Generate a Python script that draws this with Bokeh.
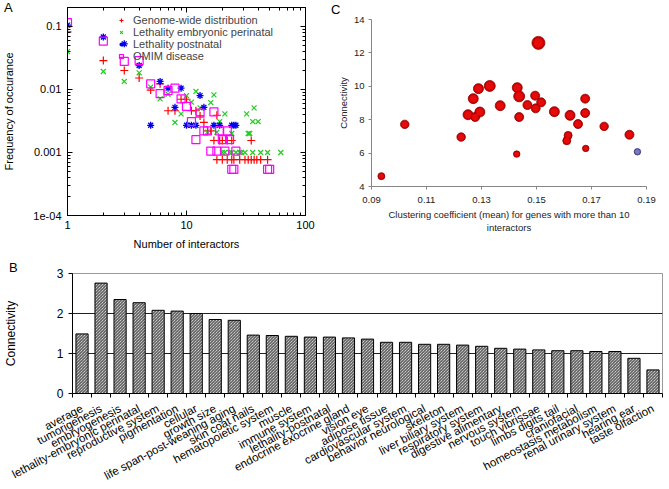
import math
from bokeh.plotting import figure
from bokeh.models import FixedTicker, LogAxis, Range1d, Legend, LegendItem, Div
from bokeh.layouts import column, row
from bokeh.embed import file_html
from bokeh.resources import INLINE

FONT = "Liberation Sans"

# ---------------- Panel A data (degree distributions) ----------------
genome_k = [1, 2, 3, 4, 5, 6, 7, 8, 9, 10, 11, 12, 13, 14, 15, 16, 18,
            17, 19, 20, 22, 24, 35,
            18, 20, 22, 24, 25, 28, 31, 33, 35, 37, 39, 42, 48]
genome_f = [0.082, 0.0288, 0.020, 0.0152, 0.0098, 0.0123, 0.0046, 0.0046, 0.0070, 0.0070,
            0.0046, 0.0046, 0.0038, 0.0030, 0.0022, 0.0022, 0.0039,
            0.00155, 0.00155, 0.00155, 0.00155, 0.00155, 0.00155,
            0.00077, 0.00077, 0.00077, 0.00077, 0.00077, 0.00077, 0.00077, 0.00077,
            0.00077, 0.00077, 0.00077, 0.00077, 0.00077]

emb_k = [1, 2, 3, 4, 5, 6, 7, 8, 9, 10, 11, 12, 13, 15, 16, 17, 18, 19, 21, 24,
         32, 33, 34, 36, 37, 40,
         20, 21, 23, 24, 26, 28, 29, 31, 36, 42, 48, 62]
emb_f = [0.040, 0.0193, 0.0134, 0.0184, 0.0109, 0.0071, 0.0084, 0.0030, 0.0041, 0.0080,
         0.0063, 0.0093, 0.0051, 0.0021, 0.0062, 0.0082, 0.0021, 0.0031, 0.0041, 0.0020,
         0.0041, 0.0020, 0.0020, 0.0031, 0.0051, 0.0031,
         0.0010, 0.0010, 0.0010, 0.0010, 0.0010, 0.0010, 0.0010, 0.0010, 0.0010, 0.0010,
         0.0010, 0.0010]

post_k = [1, 2, 3, 4, 5, 6, 7, 8, 9, 10, 11, 12, 13, 14, 17, 19, 24, 25, 26]
post_f = [0.105, 0.068, 0.053, 0.024, 0.0027, 0.0134, 0.0105, 0.0052, 0.0105, 0.0027,
          0.0027, 0.0027, 0.0080, 0.0052, 0.0027, 0.0027, 0.0027, 0.0027, 0.0027]

omim_k = [1, 2, 3, 4, 5, 6, 7, 8, 9, 10, 11, 12, 13, 14, 15, 16, 17, 18, 19, 20,
          21, 22, 23, 24, 25, 26, 48, 50]
omim_f = [0.115, 0.0586, 0.0279, 0.0288, 0.0123, 0.0086, 0.0096, 0.0105, 0.0071, 0.0054,
          0.0031, 0.0016, 0.0042, 0.0022, 0.0022, 0.00105, 0.0044, 0.00105, 0.0022, 0.0016,
          0.00105, 0.0022, 0.0016, 0.00054, 0.00054, 0.00105, 0.00054, 0.00054]

a_series = ["Genome-wide distribution", "Lethality embryonic perinatal",
            "Lethality postnatal", "OMIM disease"]
a_x_ticks = [1, 10, 100]
a_x_labels = ["1", "10", "100"]
a_y_ticks = [0.1, 0.01, 0.001, 0.0001]
a_y_labels = ["0.1", "0.01", "0.001", "1e-04"]

# ---------------- Panel B data ----------------
b_categories = ["average", "tumorigenesis", "embryogenesis", "lethality-embryonic perinatal",
                "reproductive system", "pigmentation", "cellular", "growth size",
                "life span-post-weaning aging", "skin coat nails", "hematopoietic system",
                "muscle", "immune system", "lethality-postnatal", "endocrine exocrine gland",
                "vision eye", "adipose tissue", "cardiovascular system", "behavior neurological",
                "skeleton", "liver biliary system", "respiratory system", "digestive alimentary",
                "nervous system", "touch vibrissae", "limbs digits tail", "craniofacial",
                "homeostasis metabolism", "renal urinary system", "hearing ear", "taste olfaction"]
b_values = [1.49, 2.76, 2.35, 2.27, 2.08, 2.06, 2.00, 1.85, 1.83, 1.46, 1.45, 1.43, 1.41,
            1.41, 1.39, 1.36, 1.28, 1.28, 1.23, 1.23, 1.21, 1.18, 1.13, 1.11, 1.09, 1.07,
            1.07, 1.05, 1.05, 0.88, 0.59]
b_y_ticks = [0, 1, 2, 3]

# ---------------- Panel C data ----------------
c_clustering = [0.0936, 0.1021, 0.1226, 0.1251, 0.1277, 0.1294, 0.1270, 0.1289, 0.1330, 0.1368,
                0.1430, 0.1437, 0.1437, 0.1428, 0.1467, 0.1495, 0.1497, 0.1517, 0.1507, 0.1565,
                0.1622, 0.1651, 0.1615, 0.1610, 0.1677, 0.1677, 0.1679, 0.1746, 0.1838, 0.1867]
c_connectivity = [4.62, 7.72, 6.96, 8.30, 8.16, 8.46, 9.26, 9.86, 10.02, 8.84,
                  9.92, 9.40, 8.16, 5.94, 8.88, 9.44, 8.68, 9.04, 12.60, 8.48,
                  8.26, 7.74, 7.06, 6.74, 9.26, 8.40, 6.28, 7.60, 7.10, 6.08]
c_bubble = [49, 72, 72, 100, 81, 100, 100, 100, 121, 100,
            100, 121, 81, 42, 81, 81, 81, 81, 169, 100,
            100, 81, 64, 64, 81, 81, 42, 72, 81, 42]
c_group = ["phenotype"] * 29 + ["average"]
c_x_ticks = [0.09, 0.11, 0.13, 0.15, 0.17, 0.19]
c_y_ticks = [4, 6, 8, 10, 12, 14]

panel_letters = ["A", "B", "C"]


def letter_div(text, left, top):
    return Div(text=text, margin=0,
               styles={"position": "absolute", "left": f"{left}px", "top": f"{top}px",
                       "font-family": FONT, "font-size": "13px", "line-height": "1",
                       "color": "black"})


# ================= Panel A =================
pa = figure(width=330, height=252, x_axis_type="log", y_axis_type="log",
            x_range=Range1d(1, 100), y_range=Range1d(1e-4, 0.2),
            output_backend="svg", toolbar_location=None,
            min_border_left=64, min_border_right=25, min_border_top=7, min_border_bottom=36)
pa.grid.visible = False
pa.outline_line_color = "black"
pa.outline_line_width = 1

r1 = pa.scatter(genome_k, genome_f, marker="cross", size=8, line_color="#ff0000", line_width=1.2)
r2 = pa.scatter(emb_k, emb_f, marker="x", size=7, line_color="#22cc22", line_width=1.2)
r3 = pa.scatter(post_k, post_f, marker="asterisk", size=7, line_color="#0000ee", line_width=1.3)
r4 = pa.scatter(omim_k, omim_f, marker="square", size=8, fill_color=None,
                line_color="#ff00ff", line_width=1.2)

legend = Legend(items=[LegendItem(label=a_series[i], renderers=[r])
                       for i, r in enumerate([r1, r2, r3, r4])],
                location=(48, 153), border_line_color=None,
                background_fill_alpha=0,
                label_text_font=FONT, label_text_font_size="11px",
                label_height=10, glyph_height=10, glyph_width=12, spacing=-1,
                padding=2, label_standoff=6)
pa.add_layout(legend)

x_minor = [m * d for d in [1, 10] for m in range(2, 10)]
y_minor = [m * d for d in [1e-4, 1e-3, 1e-2, 1e-1] for m in range(2, 10)]


def a_axis_style(ax):
    ax.axis_line_color = "black"
    ax.major_tick_in = 5
    ax.major_tick_out = 0
    ax.minor_tick_in = 3
    ax.minor_tick_out = 0
    ax.major_tick_line_color = "black"
    ax.minor_tick_line_color = "black"
    ax.major_label_text_font = FONT
    ax.major_label_text_font_size = "11px"
    ax.major_label_text_color = "black"
    ax.axis_label_text_font = FONT
    ax.axis_label_text_font_size = "11px"
    ax.axis_label_text_font_style = "normal"
    ax.axis_label_text_color = "black"


pa.xaxis.ticker = FixedTicker(ticks=a_x_ticks, minor_ticks=x_minor)
pa.yaxis.ticker = FixedTicker(ticks=a_y_ticks, minor_ticks=y_minor)
pa.xaxis.major_label_overrides = dict(zip(a_x_ticks, a_x_labels))
pa.yaxis.major_label_overrides = dict(zip(a_y_ticks, a_y_labels))
pa.xaxis.axis_label = "Number of interactors"
pa.yaxis.axis_label = "Frequency of occurance"
for ax in pa.xaxis + pa.yaxis:
    a_axis_style(ax)
pa.xaxis.major_label_standoff = 5
pa.xaxis.axis_label_standoff = 6
pa.yaxis.major_label_standoff = 6
pa.yaxis.axis_label_standoff = 15

top_ax = LogAxis(ticker=FixedTicker(ticks=a_x_ticks, minor_ticks=x_minor))
right_ax = LogAxis(ticker=FixedTicker(ticks=a_y_ticks, minor_ticks=y_minor))
for ax in (top_ax, right_ax):
    a_axis_style(ax)
    ax.major_label_text_font_size = "1px"
    ax.major_label_standoff = 0
pa.add_layout(top_ax, "above")
pa.add_layout(right_ax, "right")
top_ax.major_label_overrides = {t: " " for t in a_x_ticks}
right_ax.major_label_overrides = {t: " " for t in a_y_ticks}

# ================= Panel C =================
pc = figure(width=339, height=252, x_range=Range1d(0.09, 0.19), y_range=Range1d(4, 14),
            output_backend="svg", toolbar_location=None,
            min_border_left=41, min_border_right=23, min_border_top=19, min_border_bottom=66)
pc.grid.visible = False
pc.outline_line_color = None
diam = [math.sqrt(v) for v in c_bubble]
core = [0.7 * d for d in diam]
is_avg = [g == "average" for g in c_group]
fills = ["#6060b0" if a else "#cc0000" for a in is_avg]
edges = ["#34347a" if a else "#8a0000" for a in is_avg]
shine = ["#8080cc" if a else "#ee0c0c" for a in is_avg]
pc.scatter(c_clustering, c_connectivity, size=diam, fill_color=fills, line_color=edges,
           line_width=0.8)
pc.scatter(c_clustering, c_connectivity, size=core, fill_color=shine, fill_alpha=0.8,
           line_color=None)
pc.xaxis.ticker = FixedTicker(ticks=c_x_ticks)
pc.yaxis.ticker = FixedTicker(ticks=c_y_ticks)
pc.xaxis.axis_label = "Clustering coefficient (mean) for genes with more than 10\ninteractors"
pc.yaxis.axis_label = "Connectivity"
for ax in pc.xaxis + pc.yaxis:
    ax.axis_line_color = "#868686"
    ax.major_tick_line_color = "#868686"
    ax.major_tick_in = 0
    ax.major_tick_out = 3
    ax.minor_tick_line_color = None
    ax.major_label_text_font = FONT
    ax.major_label_text_font_size = "9.5px"
    ax.major_label_text_color = "#222222"
    ax.axis_label_text_font = FONT
    ax.axis_label_text_font_size = "9.5px"
    ax.axis_label_text_font_style = "normal"
    ax.axis_label_text_color = "#222222"
pc.xaxis.major_label_standoff = 7
pc.xaxis.axis_label_standoff = 3
pc.yaxis.major_label_standoff = 4
pc.yaxis.axis_label_standoff = 2

# ================= Panel B =================
n = len(b_categories)
centers = [i + 0.5 for i in range(n)]
pb = figure(width=669, height=237, x_range=Range1d(0, n), y_range=Range1d(0, 3),
            output_backend="svg", toolbar_location=None,
            min_border_left=66, min_border_right=7, min_border_top=21, min_border_bottom=96)
pb.xgrid.visible = False
pb.ygrid.ticker = FixedTicker(ticks=b_y_ticks)
pb.ygrid.grid_line_color = "#222222"
pb.ygrid.grid_line_width = 1
pb.outline_line_color = "#9a9a9a"
pb.vbar(x=centers, top=b_values, width=0.64, fill_color="white",
        hatch_pattern="left_diagonal_line", hatch_color="#3a3a3a", hatch_scale=3,
        hatch_weight=1, line_color="black", line_width=1)
pb.xaxis.ticker = FixedTicker(ticks=centers, minor_ticks=list(range(n + 1)))
pb.xaxis.major_label_overrides = dict(zip(centers, b_categories))
pb.xaxis.major_label_orientation = 0.49
pb.xaxis.major_tick_in = 0
pb.xaxis.major_tick_out = 0
pb.xaxis.minor_tick_in = 0
pb.xaxis.minor_tick_out = 4
pb.xaxis.minor_tick_line_color = "black"
pb.xaxis.major_label_standoff = 10
pb.yaxis.ticker = FixedTicker(ticks=b_y_ticks)
pb.yaxis.major_tick_in = 0
pb.yaxis.major_tick_out = 4
pb.yaxis.minor_tick_line_color = None
pb.yaxis.major_label_standoff = 5
pb.yaxis.axis_label = "Connectivity"
pb.yaxis.axis_label_standoff = 36
for ax in pb.xaxis + pb.yaxis:
    ax.axis_line_color = "black"
    ax.major_tick_line_color = "black"
    ax.major_label_text_font = FONT
    ax.major_label_text_font_size = "12px"
    ax.major_label_text_color = "black"
    ax.axis_label_text_font = FONT
    ax.axis_label_text_font_size = "12px"
    ax.axis_label_text_font_style = "normal"
    ax.axis_label_text_color = "black"
pb.xaxis.major_label_text_font_size = "11.5px"

letters = [letter_div(panel_letters[0], 4, 1),
           letter_div(panel_letters[1], 9, 261),
           letter_div(panel_letters[2], 331, 3)]

layout = column(row(column(pa), column(pc)), column(pb), *letters)
open("out.html", "w").write(file_html(layout, INLINE))
